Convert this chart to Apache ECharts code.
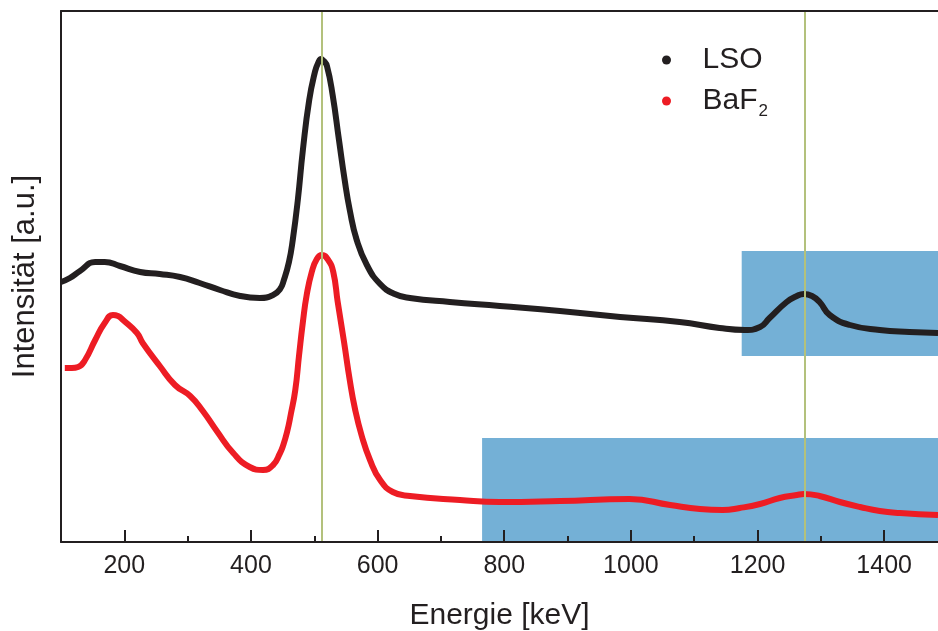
<!DOCTYPE html>
<html>
<head>
<meta charset="utf-8">
<script src="https://cdn.jsdelivr.net/npm/echarts@6/dist/echarts.min.js"></script>
<style>
html,body{margin:0;padding:0;background:#fff;}
#c{width:938px;height:631px;}
</style>
</head>
<body>
<div id="c"></div>
<script>
// ---- data (energy in keV, intensity in arbitrary units) ----
var energyLSO = [100,114,130,154,169,193,225,256,288,319,351,383,414,435,446,452,460,466,474,482,492,501,506,511,515,520,529,539,548,556,567,583,604,627,651,714,793,888,983,1077,1140,1180,1204,1219,1246,1262,1273,1286,1298,1314,1346,1393,1440,1485];
var intensityLSO = [260,264,271,280,280,276,270,268,265,259,252,246,244,247,253,262,280,302,342,392,442,470,479,483,481,476,447,402,362,332,302,277,258,248,244,240,236,231,225,220,214,212,215,224,240,246,248,246,240,227,217,212,210,209];

var energyBaF2 = [106,117,127,138,154,169,182,190,198,220,229,256,280,304,324,346,372,398,419,435,446,450,457,463,470,476,482,488,496,504,512,522,530,537,547,556,564,575,588,604,624,651,730,793,888,998,1062,1109,1145,1172,1204,1235,1262,1273,1298,1330,1362,1393,1425,1485];
var intensityBaF2 = [174,174,175,182,202,219,227,226,222,209,199,176,157,146,131,111,89,75,72,77,89,95,110,128,152,187,220,247,270,283,287,282,270,240,200,162,134,106,82,62,50,46,42,40,41,43,37,33,32,34,38,44,47,48,46,40,35,31,29,27];

var seriesNames = ['LSO', 'BaF2'];
var xMin = 100, xMax = 1485;
var majorTicks = [200, 400, 600, 800, 1000, 1200, 1400];
var minorTicks = [300, 500, 700, 900, 1100, 1300];
var referenceLines = [511, 1274];
// highlighted regions: [xStart, xEnd, yLow, yHigh]
var regionUpper = [1175, 1485, 186, 291];
var regionLower = [765, 1485, 0, 104];

function zip(a, b) { return a.map(function (v, i) { return [v, b[i]]; }); }

var FONT = "'Liberation Sans', Arial, Helvetica, sans-serif";
var INK = '#231f20';

var chart = echarts.init(document.getElementById('c'), null, {renderer: 'canvas'});
chart.setOption({
  backgroundColor: '#ffffff',
  animation: false,
  grid: {left: 61, right: 0, top: 11, bottom: 89, containLabel: false, outerBoundsMode: 'none'},
  legend: {
    orient: 'vertical',
    left: 657,
    top: 40,
    itemGap: 11,
    itemWidth: 62,
    itemHeight: 9,
    icon: 'circle',
    data: seriesNames,
    formatter: function (n) { return n === 'BaF2' ? 'BaF{sub|2}' : n; },
    textStyle: {
      fontFamily: FONT, fontSize: 30, color: INK, lineHeight: 30,
      rich: {sub: {fontFamily: FONT, fontSize: 17, color: INK, padding: [20, 0, 0, 1]}}
    }
  },
  xAxis: [
    {
      type: 'value', min: xMin, max: xMax, position: 'bottom', z: 10,
      axisLine: {show: true, onZero: false, lineStyle: {color: INK, width: 2}},
      axisTick: {show: true, inside: true, length: 12, customValues: majorTicks, lineStyle: {color: INK, width: 2}},
      axisLabel: {show: true, customValues: majorTicks, fontFamily: FONT, fontSize: 25, color: INK, margin: 12,
                  formatter: function (v) { return String(v); }},
      splitLine: {show: false},
      name: 'Energie [keV]', nameLocation: 'middle', nameGap: 59,
      nameTextStyle: {fontFamily: FONT, fontSize: 30, color: INK}
    },
    {
      type: 'value', min: xMin, max: xMax, position: 'bottom', offset: 0, z: 10,
      axisLine: {show: false, onZero: false},
      axisTick: {show: true, inside: true, length: 6, customValues: minorTicks, lineStyle: {color: INK, width: 2}},
      axisLabel: {show: false},
      splitLine: {show: false}
    },
    {
      type: 'value', min: xMin, max: xMax, position: 'top', z: 10,
      axisLine: {show: true, onZero: false, lineStyle: {color: INK, width: 2}},
      axisTick: {show: false}, axisLabel: {show: false}, splitLine: {show: false}
    }
  ],
  yAxis: {
    type: 'value', min: 0, max: 531, z: 10,
    axisLine: {show: true, onZero: false, lineStyle: {color: INK, width: 2}},
    axisTick: {show: false}, axisLabel: {show: false}, splitLine: {show: false},
    name: 'Intensität [a.u.]', nameLocation: 'middle', nameGap: 20,
    nameTextStyle: {fontFamily: FONT, fontSize: 31, color: INK}
  },
  series: [
    {
      name: 'regions', type: 'line', data: [], z: 1, silent: true,
      markArea: {
        silent: true,
        itemStyle: {color: '#74b0d6', opacity: 1},
        data: [
          [{xAxis: regionUpper[0], yAxis: regionUpper[2]}, {xAxis: regionUpper[1], yAxis: regionUpper[3]}],
          [{xAxis: regionLower[0], yAxis: regionLower[2]}, {xAxis: regionLower[1], yAxis: regionLower[3]}]
        ]
      }
    },
    {
      name: 'LSO', type: 'line', z: 3, data: zip(energyLSO, intensityLSO),
      showSymbol: false, symbol: 'circle', smooth: 0.5,
      itemStyle: {color: INK}, lineStyle: {color: INK, width: 6}
    },
    {
      name: 'BaF2', type: 'line', z: 3, data: zip(energyBaF2, intensityBaF2),
      showSymbol: false, symbol: 'circle', smooth: 0.5,
      itemStyle: {color: '#ed1c24'}, lineStyle: {color: '#ed1c24', width: 6}
    },
    {
      name: 'lines', type: 'line', data: [], z: 5, silent: true,
      markLine: {
        silent: true, symbol: ['none', 'none'], label: {show: false},
        lineStyle: {color: '#b3c17c', width: 2, type: 'solid'},
        data: referenceLines.map(function (v) { return {xAxis: v}; })
      }
    }
  ]
});
</script>
</body>
</html>
